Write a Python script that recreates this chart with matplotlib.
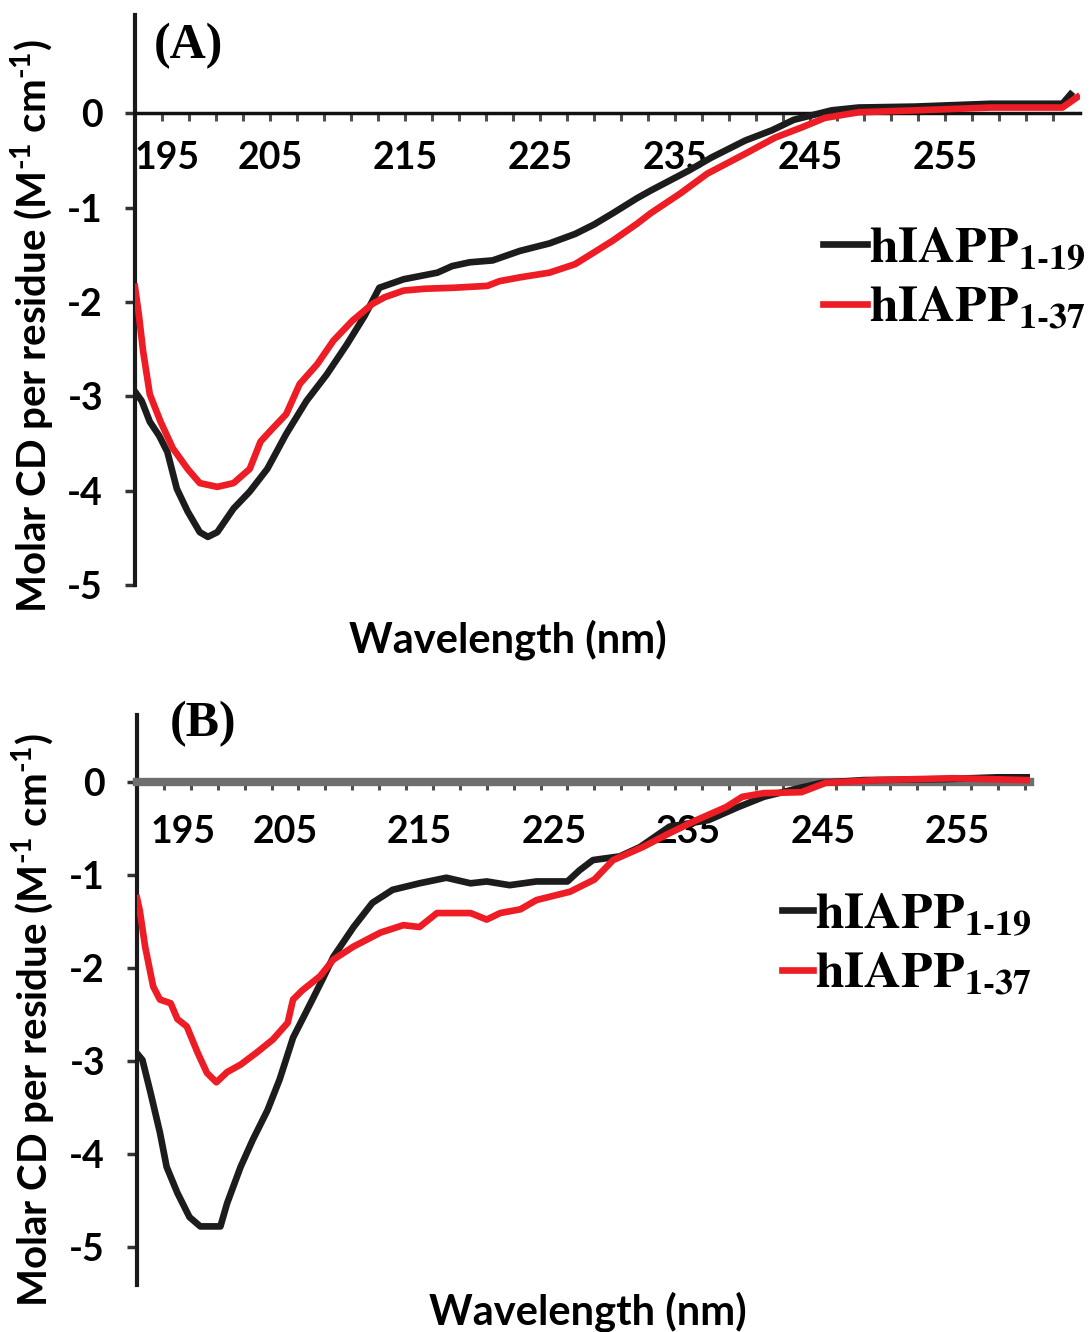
import matplotlib
matplotlib.use('Agg')
import matplotlib.pyplot as plt
import numpy as np
from matplotlib.font_manager import FontProperties
from matplotlib.ticker import FixedLocator

# ---- data (wavelength nm, molar CD per residue) ----
# panel A
a_wl_19 = [195.0, 195.5, 196.1, 196.8, 197.4, 198.1, 198.9, 199.8, 200.4, 201.1, 202.3, 203.5,
           204.8, 206.2, 207.7, 209.2, 210.7, 212.0, 213.1, 214.9, 217.4, 218.5, 219.8, 221.5,
           223.5, 225.7, 227.6, 229.0, 230.4, 232.2, 233.2, 236.0, 237.7, 240.2, 242.2, 243.8,
           245.2, 246.6, 248.6, 252.8, 258.4, 263.7, 264.3]
a_cd_19 = [-2.95, -3.05, -3.27, -3.42, -3.59, -3.98, -4.22, -4.44, -4.49, -4.44, -4.19, -4.01,
           -3.77, -3.40, -3.05, -2.77, -2.45, -2.15, -1.85, -1.76, -1.69, -1.62, -1.58, -1.56,
           -1.46, -1.38, -1.28, -1.18, -1.06, -0.90, -0.82, -0.61, -0.47, -0.29, -0.18, -0.07,
           -0.02, 0.03, 0.06, 0.07, 0.10, 0.10, 0.20]
a_wl_37 = [195.0, 195.3, 195.6, 196.1, 196.9, 197.8, 198.9, 199.8, 201.1, 202.3, 203.5, 204.3,
           205.2, 206.2, 207.2, 208.5, 209.7, 211.1, 212.6, 213.5, 214.9, 216.5, 218.6, 221.1,
           222.0, 223.5, 225.7, 227.6, 228.5, 230.4, 232.2, 233.2, 235.4, 237.4, 240.2, 242.4,
           244.4, 246.1, 248.6, 252.8, 258.4, 263.7, 264.8]
a_cd_37 = [-1.84, -2.15, -2.52, -2.98, -3.27, -3.55, -3.77, -3.92, -3.96, -3.92, -3.77, -3.48,
           -3.34, -3.19, -2.87, -2.66, -2.41, -2.20, -2.02, -1.95, -1.88, -1.86, -1.85, -1.83,
           -1.78, -1.74, -1.69, -1.60, -1.52, -1.35, -1.17, -1.06, -0.85, -0.64, -0.43, -0.26,
           -0.15, -0.05, 0.01, 0.03, 0.06, 0.06, 0.17]

# panel B
b_wl_19 = [194.0, 194.4, 195.0, 195.7, 196.2, 197.0, 197.9, 198.7, 200.2, 200.7, 201.7, 202.6,
           203.7, 204.6, 205.6, 206.9, 207.8, 208.6, 210.1, 211.5, 213.0, 215.0, 217.0, 218.8,
           220.0, 221.7, 223.7, 226.0, 226.9, 227.9, 229.9, 231.4, 233.6, 236.5, 238.7, 240.6,
           243.4, 244.9, 248.0, 254.0, 258.0, 260.5]
b_cd_19 = [-2.92, -2.99, -3.34, -3.77, -4.14, -4.42, -4.68, -4.78, -4.78, -4.53, -4.14, -3.85,
           -3.53, -3.20, -2.75, -2.38, -2.12, -1.88, -1.56, -1.30, -1.16, -1.09, -1.03, -1.09,
           -1.07, -1.11, -1.07, -1.07, -0.95, -0.84, -0.80, -0.70, -0.48, -0.41, -0.27, -0.16,
           -0.06, -0.01, 0.02, 0.03, 0.05, 0.05]
b_wl_37 = [194.0, 194.2, 194.6, 195.2, 195.7, 196.5, 197.0, 197.7, 198.5, 199.2, 199.9, 200.7,
           201.7, 202.9, 204.1, 205.2, 205.6, 206.3, 207.6, 208.6, 210.1, 212.1, 213.8, 215.0,
           216.3, 218.8, 220.0, 221.0, 222.5, 223.7, 226.2, 228.0, 229.4, 231.6, 233.6, 235.6,
           237.8, 239.0, 240.6, 243.4, 245.2, 249.0, 254.7, 260.2]
b_cd_37 = [-1.25, -1.38, -1.77, -2.20, -2.34, -2.38, -2.55, -2.63, -2.91, -3.13, -3.23, -3.12,
           -3.04, -2.91, -2.77, -2.59, -2.34, -2.24, -2.09, -1.91, -1.77, -1.62, -1.54, -1.56,
           -1.41, -1.41, -1.48, -1.41, -1.37, -1.27, -1.18, -1.05, -0.84, -0.70, -0.55, -0.41,
           -0.27, -0.16, -0.12, -0.11, -0.01, 0.02, 0.04, 0.02]

x_tick_values = [195, 205, 215, 225, 235, 245, 255]
y_tick_values = [-5, -4, -3, -2, -1, 0]
series_names = [r'$\mathbf{hIAPP}_{\mathbf{1}\text{-}\mathbf{19}}$',
                r'$\mathbf{hIAPP}_{\mathbf{1}\text{-}\mathbf{37}}$']
series_colors = ['#1c1c1c', '#ee1c24']

plt.rcParams['font.family'] = 'Lato'
plt.rcParams['font.weight'] = 'bold'
plt.rcParams['axes.unicode_minus'] = False
plt.rcParams['mathtext.fontset'] = 'custom'
plt.rcParams['mathtext.rm'] = 'Lato'
plt.rcParams['mathtext.bf'] = 'Lato:bold'

serif_bold = FontProperties(family='Liberation Serif', weight='bold', size=36)
legend_font = FontProperties(family='Liberation Serif', weight='bold', size=37,
                             math_fontfamily='stix')


def draw_panel(ax, curves, letter, xlim, ylim, minor_start, zero_color, zero_width,
               label_pad, xlabel_pos, ylabel_pos, letter_pos, legend_pos, handle_len):
    """Draws one CD spectrum panel with the axis crossing at zero."""
    for (wl, cd), color, name in zip(curves, series_colors, series_names):
        ax.plot(wl, cd, color=color, lw=4.8, label=name, zorder=3)

    ax.set_xlim(xlim)
    ax.set_ylim(ylim)

    # axes: left spine plus a horizontal axis line at zero
    ax.spines[['top', 'right']].set_visible(False)
    ax.spines['bottom'].set_position(('data', 0))
    ax.spines['bottom'].set_color(zero_color)
    ax.spines['bottom'].set_linewidth(zero_width)
    ax.spines['left'].set_color('#1a1a1a')
    ax.spines['left'].set_linewidth(3)

    ax.set_xticks(x_tick_values)
    ax.xaxis.set_minor_locator(FixedLocator(np.arange(minor_start, xlim[1], 2)))
    ax.xaxis.remove_overlapping_locs = False
    ax.tick_params(axis='x', which='major', length=0, pad=label_pad, labelsize=27)
    ax.tick_params(axis='x', which='minor', length=6, width=2.2, color='#505050',
                   direction='out')
    ax.xaxis.get_major_ticks()[0].label1.set_horizontalalignment('left')

    ax.set_yticks(y_tick_values)
    ax.tick_params(axis='y', length=7, width=2.5, color='#333333', pad=16, labelsize=27)

    ax.set_xlabel('Wavelength (nm)', fontsize=30, fontweight='bold')
    ax.xaxis.set_label_coords(*xlabel_pos)
    ax.set_ylabel(r'Molar CD per residue (M$^{\text{-1}}$ cm$^{\text{-1}}$)',
                  fontsize=29, fontweight='bold')
    ax.yaxis.set_label_coords(*ylabel_pos)

    ax.text(letter_pos[0], letter_pos[1], letter, transform=ax.transAxes,
            fontproperties=serif_bold, va='center', ha='left')

    ax.legend(loc='upper left', bbox_to_anchor=legend_pos, frameon=False, prop=legend_font,
              handlelength=handle_len, handletextpad=0.05, borderpad=0, borderaxespad=0,
              labelspacing=0.25)


fig = plt.figure(figsize=(10.92, 13.32), dpi=100)
ax_a = fig.add_axes([0.1236, 0.5608, 0.8654, 0.4279])
ax_b = fig.add_axes([0.1255, 0.0353, 0.8178, 0.4279])

draw_panel(ax_a, [(a_wl_19, a_cd_19), (a_wl_37, a_cd_37)], '(A)',
           xlim=(195, 265), ylim=(-5.0, 1.04), minor_start=197,
           zero_color='#111111', zero_width=2.5, label_pad=20,
           xlabel_pos=(0.395, -0.06), ylabel_pos=(-0.082, 0.455),
           letter_pos=(0.02, 0.945), legend_pos=(0.728, 0.63), handle_len=0.85)

draw_panel(ax_b, [(b_wl_19, b_cd_19), (b_wl_37, b_cd_37)], '(B)',
           xlim=(194, 260.4), ylim=(-5.41, 0.72), minor_start=196,
           zero_color='#6e6e6e', zero_width=6, label_pad=24,
           xlabel_pos=(0.505, -0.012), ylabel_pos=(-0.088, 0.465),
           letter_pos=(0.037, 0.985), legend_pos=(0.722, 0.69), handle_len=0.6)

fig.savefig('out.png', dpi=100, facecolor='white')
